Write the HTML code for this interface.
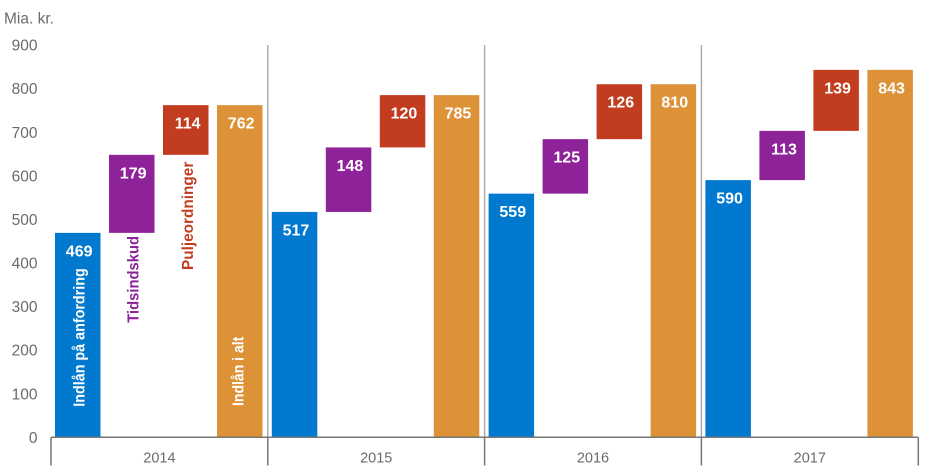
<!DOCTYPE html>
<html><head><meta charset="utf-8"><style>
html,body{margin:0;padding:0;background:#fff;}
svg{display:block;}
text{font-family:"Liberation Sans",sans-serif;}
.t{fill:#6b6b6b;font-size:15.5px;text-anchor:end;}
.v{fill:#fff;font-size:16px;font-weight:bold;text-anchor:end;}
.r{font-size:16px;font-weight:bold;}
</style></head><body>
<svg width="940" height="473" viewBox="0 0 940 473" xmlns="http://www.w3.org/2000/svg">
<text x="4" y="23.3" style="fill:#6b6b6b;font-size:15.5px;">Mia. kr.</text>
<g>
<text class="t" x="37.5" y="442.9">0</text>
<text class="t" x="37.5" y="399.3">100</text>
<text class="t" x="37.5" y="355.7">200</text>
<text class="t" x="37.5" y="312.1">300</text>
<text class="t" x="37.5" y="268.5">400</text>
<text class="t" x="37.5" y="224.9">500</text>
<text class="t" x="37.5" y="181.3">600</text>
<text class="t" x="37.5" y="137.8">700</text>
<text class="t" x="37.5" y="94.2">800</text>
<text class="t" x="37.5" y="50.6">900</text>
</g>
<g stroke="#ababab" stroke-width="1.5">
<line x1="267.8" y1="45" x2="267.8" y2="437.3"/>
<line x1="484.6" y1="45" x2="484.6" y2="437.3"/>
<line x1="701.4" y1="45" x2="701.4" y2="437.3"/>
</g>
<rect x="55" y="232.87" width="45.5" height="204.43" fill="#0079cf"/>
<rect x="109" y="154.84" width="45.5" height="78.03" fill="#8e2399"/>
<rect x="163" y="105.15" width="45.5" height="49.69" fill="#c23c20"/>
<rect x="217" y="105.15" width="45.5" height="332.15" fill="#dd9238"/>
<rect x="271.8" y="211.94" width="45.5" height="225.36" fill="#0079cf"/>
<rect x="325.8" y="147.43" width="45.5" height="64.51" fill="#8e2399"/>
<rect x="379.8" y="95.13" width="45.5" height="52.3" fill="#c23c20"/>
<rect x="433.8" y="95.13" width="45.5" height="342.17" fill="#dd9238"/>
<rect x="488.6" y="193.64" width="45.5" height="243.66" fill="#0079cf"/>
<rect x="542.6" y="139.15" width="45.5" height="54.49" fill="#8e2399"/>
<rect x="596.6" y="84.23" width="45.5" height="54.92" fill="#c23c20"/>
<rect x="650.6" y="84.23" width="45.5" height="353.07" fill="#dd9238"/>
<rect x="705.4" y="180.12" width="45.5" height="257.18" fill="#0079cf"/>
<rect x="759.4" y="130.87" width="45.5" height="49.25" fill="#8e2399"/>
<rect x="813.4" y="69.84" width="45.5" height="61.03" fill="#c23c20"/>
<rect x="867.4" y="69.84" width="45.5" height="367.46" fill="#dd9238"/>
<text class="v" x="92.5" y="256.4">469</text>
<text class="v" x="146.5" y="178.3">179</text>
<text class="v" x="200.5" y="128.6">114</text>
<text class="v" x="254.5" y="128.6">762</text>
<text class="v" x="309.3" y="235.4">517</text>
<text class="v" x="363.3" y="170.9">148</text>
<text class="v" x="417.3" y="118.6">120</text>
<text class="v" x="471.3" y="118.6">785</text>
<text class="v" x="526.1" y="217.1">559</text>
<text class="v" x="580.1" y="162.6">125</text>
<text class="v" x="634.1" y="107.7">126</text>
<text class="v" x="688.1" y="107.7">810</text>
<text class="v" x="742.9" y="203.6">590</text>
<text class="v" x="796.9" y="154.4">113</text>
<text class="v" x="850.9" y="93.3">139</text>
<text class="v" x="904.9" y="93.3">843</text>
<text class="r" transform="translate(84.5,406.7) rotate(-90)" fill="#fff" textLength="138.4" lengthAdjust="spacingAndGlyphs">Indlån på anfordring</text>
<text class="r" transform="translate(138.3,322.7) rotate(-90)" fill="#8e2399" textLength="86.7" lengthAdjust="spacingAndGlyphs">Tidsindskud</text>
<text class="r" transform="translate(193,270) rotate(-90)" fill="#c23c20" textLength="108.3" lengthAdjust="spacingAndGlyphs">Puljeordninger</text>
<text class="r" transform="translate(243.5,406) rotate(-90)" fill="#fff" textLength="69.3" lengthAdjust="spacingAndGlyphs">Indlån i alt</text>
<g stroke="#767676" stroke-width="1.5">
<line x1="51" y1="437.3" x2="918.3" y2="437.3"/>
<line x1="51" y1="437.3" x2="51" y2="465.5"/>
<line x1="267.8" y1="437.3" x2="267.8" y2="465.5"/>
<line x1="484.6" y1="437.3" x2="484.6" y2="465.5"/>
<line x1="701.4" y1="437.3" x2="701.4" y2="465.5"/>
<line x1="918.3" y1="437.3" x2="918.3" y2="465.5"/>
</g>
<g style="fill:#6b6b6b;font-size:14.5px;text-anchor:middle;">
<text x="159.4" y="462.3">2014</text>
<text x="376.2" y="462.3">2015</text>
<text x="593" y="462.3">2016</text>
<text x="809.8" y="462.3">2017</text>
</g>
</svg>
</body></html>
